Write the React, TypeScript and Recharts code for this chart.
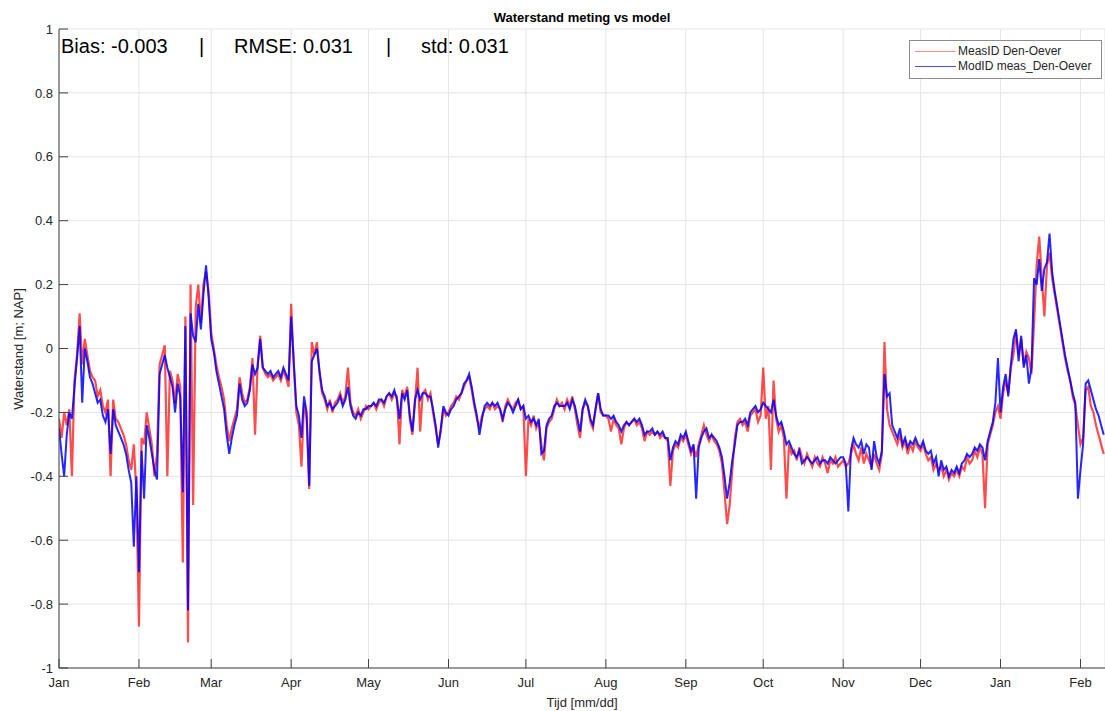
import { CartesianGrid, Line, LineChart, XAxis, YAxis } from 'recharts'

// daily water levels [m NAP], day 0 = 1 Jan, last day = 10 Feb of the next year
const measured = [
  // Jan
  -0.22, -0.28, -0.2, -0.24, -0.19, -0.4, -0.1, -0.02, 0.11, -0.05, 0.03, -0.02, -0.07, -0.09, -0.1, -0.15,
  -0.13, -0.18, -0.2, -0.16, -0.4, -0.16, -0.22, -0.23, -0.25, -0.27, -0.3, -0.35, -0.38, -0.3, -0.45,
  // Feb
  -0.87, -0.28, -0.3, -0.2, -0.25, -0.3, -0.4, -0.33, -0.05, -0.02, 0.01, -0.4, -0.07, -0.1, -0.17, -0.08,
  -0.12, -0.67, 0.1, -0.92, 0.2, -0.49, 0.13, 0.2, 0.08, 0.2, 0.24, 0.18,
  // Mar
  0.05, 0.0, -0.05, -0.09, -0.12, -0.16, -0.24, -0.29, -0.25, -0.22, -0.19, -0.09, -0.14, -0.17, -0.16, -0.12,
  -0.03, -0.27, -0.05, 0.04, -0.06, -0.08, -0.09, -0.08, -0.1, -0.09, -0.08, -0.1, -0.07, -0.09, -0.12,
  // Apr
  0.14, -0.05, -0.2, -0.24, -0.37, -0.17, -0.22, -0.44, 0.02, -0.02, 0.02, -0.08, -0.14, -0.16, -0.19, -0.16,
  -0.2, -0.17, -0.16, -0.14, -0.17, -0.15, -0.06, -0.17, -0.2, -0.21, -0.19, -0.22, -0.2, -0.18,
  // May
  -0.19, -0.18, -0.17, -0.19, -0.17, -0.16, -0.18, -0.15, -0.14, -0.16, -0.14, -0.15, -0.3, -0.13, -0.15, -0.12,
  -0.22, -0.27, -0.17, -0.06, -0.26, -0.14, -0.13, -0.16, -0.14, -0.2, -0.25, -0.3, -0.26, -0.19, -0.21,
  // Jun
  -0.2, -0.18, -0.17, -0.15, -0.16, -0.14, -0.12, -0.1, -0.09, -0.13, -0.18, -0.22, -0.25, -0.21, -0.19, -0.18,
  -0.19, -0.17, -0.19, -0.18, -0.19, -0.23, -0.18, -0.16, -0.18, -0.19, -0.17, -0.16, -0.19, -0.18,
  // Jul
  -0.4, -0.22, -0.24, -0.21, -0.25, -0.23, -0.3, -0.35, -0.25, -0.23, -0.22, -0.19, -0.16, -0.18, -0.17, -0.19,
  -0.16, -0.18, -0.15, -0.19, -0.24, -0.28, -0.19, -0.17, -0.18, -0.23, -0.25, -0.19, -0.14, -0.2, -0.21,
  // Aug
  -0.21, -0.22, -0.26, -0.22, -0.24, -0.25, -0.3, -0.25, -0.23, -0.24, -0.23, -0.22, -0.24, -0.23, -0.25, -0.29,
  -0.26, -0.27, -0.26, -0.27, -0.26, -0.28, -0.27, -0.28, -0.29, -0.43, -0.32, -0.3, -0.31, -0.28, -0.29,
  // Sep
  -0.27, -0.3, -0.33, -0.31, -0.34, -0.3, -0.27, -0.24, -0.27, -0.29, -0.27, -0.29, -0.3, -0.32, -0.36, -0.45,
  -0.55, -0.49, -0.38, -0.28, -0.23, -0.22, -0.24, -0.23, -0.26, -0.21, -0.2, -0.19, -0.23, -0.21,
  // Oct
  -0.06, -0.22, -0.18, -0.38, -0.1, -0.22, -0.26, -0.24, -0.28, -0.47, -0.3, -0.33, -0.32, -0.35, -0.31, -0.34,
  -0.36, -0.33, -0.35, -0.37, -0.34, -0.36, -0.37, -0.34, -0.36, -0.39, -0.35, -0.36, -0.34, -0.37, -0.36,
  // Nov
  -0.35, -0.37, -0.36, -0.33, -0.3, -0.33, -0.35, -0.31, -0.36, -0.33, -0.35, -0.37, -0.33, -0.36, -0.38, -0.33,
  0.02, -0.19, -0.24, -0.26, -0.28, -0.3, -0.27, -0.31, -0.29, -0.33, -0.3, -0.32, -0.29, -0.31,
  // Dec
  -0.32, -0.3, -0.33, -0.35, -0.34, -0.38, -0.36, -0.38, -0.37, -0.4, -0.38, -0.41, -0.39, -0.4, -0.38, -0.4,
  -0.37, -0.38, -0.34, -0.36, -0.35, -0.32, -0.34, -0.31, -0.33, -0.5, -0.3, -0.27, -0.24, -0.2, -0.18,
  // Jan
  -0.22, -0.14, -0.1, -0.14, -0.06, -0.02, 0.05, -0.02, 0.03, -0.05, -0.01, -0.03, -0.08, 0.08, 0.26, 0.35,
  0.22, 0.1, 0.26, 0.3, 0.22, 0.17, 0.12, 0.07, 0.02, -0.03, -0.07, -0.1, -0.15, -0.18, -0.24,
  // Feb
  -0.3, -0.28, -0.13, -0.12, -0.18, -0.2, -0.24, -0.27, -0.3, -0.33,
]

const model = [
  // Jan
  -0.25, -0.33, -0.4, -0.27, -0.2, -0.22, -0.12, -0.03, 0.07, -0.17, 0.0, -0.04, -0.09, -0.11, -0.14, -0.17,
  -0.16, -0.21, -0.23, -0.19, -0.33, -0.19, -0.24, -0.26, -0.28, -0.3, -0.33, -0.38, -0.42, -0.62, -0.4,
  // Feb
  -0.7, -0.32, -0.47, -0.24, -0.28, -0.33, -0.38, -0.41, -0.08, -0.05, -0.02, -0.06, -0.09, -0.12, -0.2, -0.11,
  -0.15, -0.45, 0.07, -0.82, 0.11, 0.04, 0.02, 0.14, 0.06, 0.17, 0.26, 0.16,
  // Mar
  0.03, -0.01, -0.07, -0.11, -0.15, -0.19, -0.27, -0.33, -0.28, -0.24, -0.21, -0.11, -0.16, -0.18, -0.17, -0.13,
  -0.05, -0.08, -0.06, 0.03, -0.06, -0.07, -0.08, -0.07, -0.09, -0.08, -0.07, -0.09, -0.06, -0.08, -0.1,
  // Apr
  0.1, -0.04, -0.18, -0.21, -0.28, -0.15, -0.2, -0.43, -0.04, -0.02, 0.0, -0.07, -0.13, -0.15, -0.18, -0.17,
  -0.19, -0.18, -0.17, -0.15, -0.18, -0.16, -0.12, -0.18, -0.21, -0.22, -0.2, -0.21, -0.19, -0.19,
  // May
  -0.18, -0.18, -0.17, -0.18, -0.16, -0.16, -0.17, -0.15, -0.14, -0.15, -0.13, -0.16, -0.22, -0.14, -0.16, -0.13,
  -0.21, -0.26, -0.16, -0.13, -0.16, -0.14, -0.14, -0.15, -0.15, -0.19, -0.24, -0.31, -0.25, -0.18, -0.2,
  // Jun
  -0.21, -0.19, -0.18, -0.16, -0.15, -0.14, -0.11, -0.1, -0.08, -0.12, -0.17, -0.21, -0.27, -0.22, -0.18, -0.17,
  -0.18, -0.17, -0.18, -0.17, -0.19, -0.22, -0.19, -0.17, -0.18, -0.2, -0.18, -0.16, -0.19, -0.18,
  // Jul
  -0.22, -0.21, -0.23, -0.22, -0.24, -0.22, -0.33, -0.32, -0.24, -0.22, -0.21, -0.18, -0.17, -0.18, -0.18, -0.18,
  -0.17, -0.19, -0.16, -0.18, -0.22, -0.26, -0.19, -0.16, -0.18, -0.22, -0.24, -0.19, -0.14, -0.19, -0.21,
  // Aug
  -0.21, -0.21, -0.22, -0.21, -0.23, -0.24, -0.26, -0.24, -0.23, -0.24, -0.23, -0.22, -0.23, -0.22, -0.24, -0.27,
  -0.26, -0.26, -0.25, -0.27, -0.26, -0.27, -0.26, -0.28, -0.28, -0.35, -0.31, -0.29, -0.3, -0.27, -0.28,
  // Sep
  -0.26, -0.29, -0.32, -0.3, -0.47, -0.31, -0.28, -0.26, -0.25, -0.28, -0.27, -0.28, -0.29, -0.31, -0.34, -0.4,
  -0.47, -0.42, -0.35, -0.3, -0.24, -0.23, -0.23, -0.22, -0.24, -0.2, -0.19, -0.18, -0.2, -0.19,
  // Oct
  -0.17, -0.18, -0.19, -0.2, -0.16, -0.21, -0.24, -0.23, -0.26, -0.3, -0.29, -0.31, -0.33, -0.34, -0.32, -0.36,
  -0.35, -0.34, -0.35, -0.36, -0.35, -0.34, -0.36, -0.35, -0.35, -0.36, -0.34, -0.35, -0.36, -0.35, -0.34,
  // Nov
  -0.34, -0.36, -0.51, -0.32, -0.28, -0.3, -0.31, -0.29, -0.33, -0.3, -0.31, -0.38, -0.29, -0.34, -0.36, -0.32,
  -0.08, -0.15, -0.14, -0.24, -0.26, -0.28, -0.25, -0.3, -0.28, -0.31, -0.29, -0.3, -0.28, -0.3,
  // Dec
  -0.31, -0.29, -0.32, -0.33, -0.32, -0.36, -0.34, -0.4, -0.35, -0.38, -0.37, -0.4, -0.38, -0.39, -0.37, -0.39,
  -0.36, -0.35, -0.33, -0.34, -0.33, -0.31, -0.32, -0.3, -0.31, -0.35, -0.29, -0.26, -0.23, -0.17, -0.03,
  // Jan
  -0.2, -0.12, -0.08, -0.15, -0.05, 0.03, 0.06, -0.04, 0.04, -0.06, -0.02, -0.11, -0.06, 0.22, 0.2, 0.28,
  0.18, 0.25, 0.27, 0.36, 0.24, 0.18, 0.13, 0.08, 0.03, -0.02, -0.06, -0.1, -0.14, -0.17, -0.47,
  // Feb
  -0.38, -0.3, -0.11, -0.1, -0.13, -0.16, -0.19, -0.21, -0.24, -0.27,
]

const monthLabels = ['Jan', 'Feb', 'Mar', 'Apr', 'May', 'Jun', 'Jul', 'Aug', 'Sep', 'Oct', 'Nov', 'Dec', 'Jan', 'Feb']
const monthStartDays = [0, 31, 59, 90, 120, 151, 181, 212, 243, 273, 304, 334, 365, 396]
const yTicks = [-1, -0.8, -0.6, -0.4, -0.2, 0, 0.2, 0.4, 0.6, 0.8, 1]

const stats = ['Bias: -0.003', 'RMSE: 0.031', 'std: 0.031']

const data = measured.map((v, i) => ({ day: i, meas: v, model: model[i] }))

const FONT = '"Liberation Sans", Arial, Helvetica, sans-serif'
const AXIS = '#404040'
const TEXT = '#262626'

const monthName = (d: number) => monthLabels[monthStartDays.indexOf(d)] ?? ''
const yLabel = (v: number) => String(Number(v.toFixed(1)))

export default function App() {
  return (
    <div style={{ position: 'absolute', left: 0, top: 0, width: 1105, height: 711, background: '#fff', fontFamily: FONT, overflow: 'hidden' }}>
      <div style={{ position: 'absolute', left: 0, width: 1164, top: 10, textAlign: 'center', fontSize: 13, fontWeight: 'bold', color: '#000' }}>
        Waterstand meting vs model
      </div>

      <LineChart width={1105} height={711} data={data} margin={{ top: 29, right: 0, bottom: 0, left: 0 }}>
        <CartesianGrid stroke="#e4e4e4" strokeWidth={1} />
        <XAxis
          dataKey="day"
          type="number"
          domain={[0, 405.5]}
          ticks={monthStartDays}
          tickFormatter={monthName}
          height={43}
          stroke={AXIS}
          tickSize={-9}
          tickMargin={19}
          tick={{ fill: TEXT, fontSize: 13, fontFamily: FONT }}
          interval={0}
          allowDataOverflow
        />
        <XAxis
          xAxisId="top"
          orientation="top"
          dataKey="day"
          type="number"
          domain={[0, 405.5]}
          ticks={monthStartDays}
          height={0}
          stroke={AXIS}
          tickSize={-9}
          tick={false}
          interval={0}
          allowDataOverflow
        />
        <YAxis
          type="number"
          domain={[-1, 1]}
          ticks={yTicks}
          tickFormatter={yLabel}
          width={59}
          stroke={AXIS}
          tickSize={-9}
          tickMargin={15}
          tick={{ fill: TEXT, fontSize: 13, fontFamily: FONT }}
          interval={0}
          allowDataOverflow
        />
        <Line dataKey="meas" type="linear" stroke="#ff0000" strokeOpacity={0.7} strokeWidth={2.2} dot={false} isAnimationActive={false} />
        <Line dataKey="model" type="linear" stroke="#0000ff" strokeOpacity={0.85} strokeWidth={2} dot={false} isAnimationActive={false} />
      </LineChart>

      <div style={{ position: 'absolute', left: 61, top: 35, fontSize: 20, color: '#000', whiteSpace: 'pre' }}>{stats[0]}</div>
      <div style={{ position: 'absolute', left: 199, top: 35, fontSize: 20, color: '#000' }}>|</div>
      <div style={{ position: 'absolute', left: 234, top: 35, fontSize: 20, color: '#000', whiteSpace: 'pre' }}>{stats[1]}</div>
      <div style={{ position: 'absolute', left: 386, top: 35, fontSize: 20, color: '#000' }}>|</div>
      <div style={{ position: 'absolute', left: 421, top: 35, fontSize: 20, color: '#000', whiteSpace: 'pre' }}>{stats[2]}</div>

      <div style={{ position: 'absolute', left: 909, top: 40, width: 191, height: 37, border: '1px solid #8c8c8c', background: '#fff', fontSize: 12, color: TEXT }}>
        <div style={{ position: 'absolute', left: 5, top: 10, width: 41, height: 1, background: '#ff8a8a' }} />
        <div style={{ position: 'absolute', left: 48, top: 3 }}>MeasID Den-Oever</div>
        <div style={{ position: 'absolute', left: 5, top: 25, width: 41, height: 1, background: '#4a4aff' }} />
        <div style={{ position: 'absolute', left: 48, top: 18 }}>ModID meas_Den-Oever</div>
      </div>

      <div style={{ position: 'absolute', left: 18, top: 349, transform: 'translate(-50%, -50%) rotate(-90deg)', fontSize: 13, color: TEXT, whiteSpace: 'nowrap' }}>
        Waterstand [m; NAP]
      </div>
      <div style={{ position: 'absolute', left: 0, width: 1164, top: 695, textAlign: 'center', fontSize: 13, color: TEXT }}>
        Tijd [mm/dd]
      </div>
    </div>
  )
}
